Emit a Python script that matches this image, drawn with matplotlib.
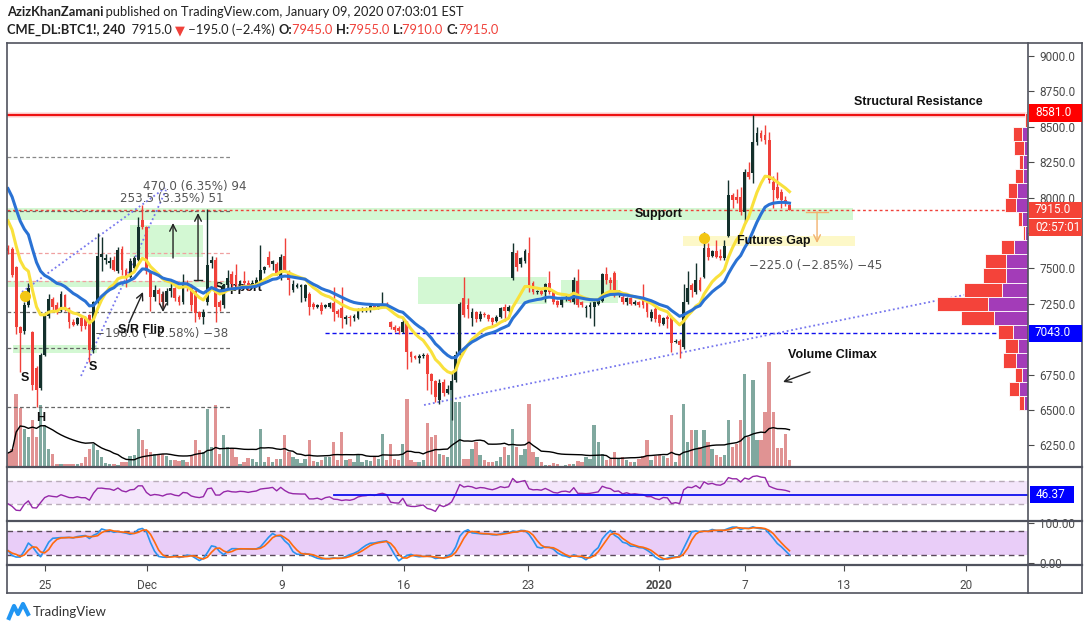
import matplotlib
matplotlib.use('Agg')
import matplotlib.pyplot as plt
import numpy as np
import pandas as pd
from matplotlib.patches import Rectangle
from matplotlib.lines import Line2D

# ---------------- data (4h bars, CME BTC1!) ----------------
opens = [7645,7640,7510,7085,7060,7245,7050,6800,6655,6890,
         7165,7285,7240,7200,7310,7220,7120,7110,7150,7150,
         7170,6925,7265,7580,7560,7540,7560,7480,7640,7490,
         7440,7500,7560,7840,7790,7470,7300,7350,7320,7260,
         7340,7360,7300,7260,7400,7380,7340,7190,7160,7260,
         7540,7560,7260,7240,7380,7460,7450,7380,7410,7400,
         7370,7390,7400,7490,7580,7530,7530,7430,7590,7475,
         7350,7370,7370,7290,7320,7250,7230,7245,7230,7230,
         7255,7200,7220,7140,7160,7150,7150,7200,7210,7215,
         7235,7220,7240,7250,7120,7085,7080,7050,7120,6910,
         6880,6870,6880,6890,6755,6705,6570,6700,6620,6640,
         6710,6890,7290,7240,7150,7190,7140,7180,7170,7150,
         7130,7160,7230,7200,7430,7610,7530,7550,7610,7400,
         7330,7340,7330,7400,7330,7270,7240,7290,7300,7260,
         7410,7260,7220,7230,7230,7250,7270,7460,7420,7470,
         7315,7300,7260,7290,7250,7260,7280,7260,7150,7210,
         7170,7110,7160,7160,6980,6990,6945,7260,7380,7330,
         7420,7440,7645,7590,7620,7590,7570,7730,8020,8005,
         8005,7900,8180,8175,8390,8455,8440,8405,8110,8075,
         8040,7985,7945]
highs = [7665,7650,7515,7090,7265,7400,7055,6810,6900,7190,
         7320,7300,7260,7340,7320,7230,7140,7160,7170,7165,
         7180,7270,7750,7720,7600,7580,7590,7650,7660,7500,
         7570,7590,7860,7950,7800,7480,7380,7360,7330,7360,
         7400,7370,7310,7460,7420,7390,7350,7200,7210,7920,
         7590,7580,7280,7390,7490,7480,7530,7420,7480,7420,
         7420,7440,7665,7520,7620,7560,7545,7600,7715,7490,
         7420,7400,7390,7390,7330,7260,7250,7260,7250,7260,
         7370,7210,7370,7170,7170,7175,7220,7230,7230,7250,
         7245,7250,7335,7260,7130,7100,7095,7150,7130,6920,
         6890,6895,6900,6900,6760,6710,6720,6720,6680,6760,
         6920,7260,7440,7290,7220,7200,7200,7190,7180,7160,
         7170,7230,7250,7240,7680,7630,7580,7640,7720,7410,
         7350,7360,7400,7480,7340,7280,7300,7310,7310,7440,
         7495,7270,7240,7260,7270,7290,7470,7510,7440,7480,
         7350,7330,7300,7300,7280,7270,7390,7270,7210,7230,
         7180,7160,7170,7170,7000,7000,7390,7480,7400,7540,
         7440,7760,7680,7630,7700,7640,7700,8124,8030,8060,
         8075,8200,8250,8585,8500,8475,8513,8460,8150,8180,
         8060,8010,7955]
lows = [7600,7440,7040,6770,7040,7230,6640,6520,6640,6880,
        7150,7190,7180,7190,7200,7080,7090,7100,7060,7070,
        6840,6900,7250,7480,7530,7500,7480,7470,7450,7370,
        7430,7480,7550,7780,7460,7200,7270,7250,7230,7240,
        7300,7270,7240,7250,7340,7200,7120,7140,7110,7240,
        7500,7120,7200,7220,7360,7360,7370,7360,7380,7350,
        7360,7370,7390,7470,7510,7490,7450,7420,7480,7310,
        7330,7360,7260,7270,7170,7210,7220,7180,7220,7220,
        7130,7160,7080,7110,7090,7130,7140,7190,7190,7190,
        7210,7210,7230,7220,7070,7050,7040,7045,6790,6840,
        6860,6830,6870,6640,6610,6557,6540,6600,6610,6430,
        6700,6880,7160,7150,7090,7120,7130,7160,7130,7100,
        7120,7150,7130,7190,7420,7480,7510,7540,7330,7320,
        7320,7310,7260,7320,7250,7230,7230,7270,7260,7250,
        7230,7230,7160,7150,7090,7240,7260,7390,7340,7300,
        7300,7250,7240,7240,7240,7230,7220,7160,7130,7120,
        7090,7100,7080,6910,6970,6867,6930,7250,7300,7320,
        7340,7430,7560,7580,7570,7560,7560,7720,7930,7960,
        7880,7820,8130,8100,8370,8400,8380,8100,7925,7990,
        7930,7940,7910]
closes = [7620,7455,7085,7045,7240,7365,6680,6640,6890,7170,
          7285,7230,7195,7320,7220,7120,7100,7150,7090,7090,
          6925,7265,7590,7600,7570,7555,7490,7630,7490,7440,
          7550,7570,7790,7790,7480,7300,7350,7320,7260,7340,
          7360,7290,7260,7400,7380,7240,7185,7157,7190,7525,
          7560,7230,7230,7380,7430,7390,7380,7410,7400,7370,
          7400,7420,7490,7510,7525,7550,7460,7580,7490,7420,
          7390,7385,7380,7380,7230,7230,7245,7200,7240,7255,
          7190,7180,7150,7160,7150,7165,7200,7215,7220,7235,
          7220,7240,7250,7230,7085,7065,7060,7120,6910,6875,
          6870,6880,6890,6755,6705,6590,6690,6620,6650,6705,
          6890,7250,7170,7210,7190,7140,7180,7170,7140,7120,
          7160,7220,7200,7225,7615,7510,7570,7620,7370,7330,
          7340,7320,7390,7330,7260,7240,7290,7300,7270,7420,
          7240,7240,7230,7240,7260,7280,7460,7420,7400,7325,
          7340,7260,7290,7250,7260,7245,7240,7190,7190,7140,
          7115,7150,7140,6975,6990,6960,7263,7360,7345,7420,
          7350,7645,7580,7620,7580,7570,7660,8018,7985,7985,
          7900,8180,8145,8390,8455,8420,8405,8125,8055,8000,
          7985,7960,7915]
volumes = [14,18,73,59,38,30,47,30,62,42,
           18,13,3,3,3,3,3,3,4,10,
           18,23,17,10,4,3,3,2,5,5,
           11,12,38,27,18,15,13,13,13,11,
           7,7,6,7,5,11,27,17,15,58,
           20,62,13,32,20,18,10,3,5,9,
           8,5,38,5,10,5,8,8,32,15,
           10,8,4,8,27,6,5,7,10,10,
           25,7,35,7,8,5,13,5,7,6,
           10,8,33,7,23,8,7,23,68,7,
           5,5,7,44,30,32,13,12,10,80,
           65,65,8,8,18,25,12,7,5,5,
           6,10,20,12,38,20,12,18,63,15,
           10,5,2,2,4,3,1,2,3,3,
           6,5,10,8,42,25,13,7,8,15,
           8,10,7,5,5,8,11,27,7,11,
           12,11,9,52,5,12,63,25,37,37,
           20,37,25,18,12,10,12,47,20,23,
           47,93,30,87,27,27,55,105,55,19,
           19,33,7]

# volume profile (price rows of 100, red / purple parts)
vp_bottoms = [8500,8400,8300,8200,8100,8000,7900,7800,7700,7600,7500,
              7400,7300,7200,7100,7000,6900,6800,6700,6600,6500,6400]
vp_red = [2,8.7,9.7,4,7.7,8.3,11.7,3.3,1.7,13,20.7,
          22.7,38,50.7,33,14.7,12.3,13,6.7,10,5.3,0]
vp_purple = [1,6.3,4.3,5,5.3,11.3,11.7,6.3,3,13.7,22,
             22.3,26.3,40,34.3,15.3,10.3,11.7,6.3,9.3,3.7,1.3]

price_ticks = [6250,6500,6750,7000,7250,7500,7750,8000,8250,8500,8750,9000]
hidden_ticks = [7000, 7750]          # covered by the price boxes in the reference
date_ticks = [9.1, 34.2, 67.3, 97.3, 127.8, 160.0, 181.1, 205.4, 235.4]
date_labels = ['25', 'Dec', '9', '16', '23', '2020', '7', '13', '20']

ema_fast_seed, ema_slow_seed = 7880, 8110
rsi_seed_gain, rsi_seed_loss = 25.0, 55.0
resistance, last_price, support_line, rsi_line_level = 8581.0, 7915.0, 7043.0, 46.37

# ---------------- indicators ----------------
O = np.array(opens, float); Hh = np.array(highs, float)
L = np.array(lows, float); C = np.array(closes, float)
V = np.array(volumes, float)
n = len(C)
idx = np.arange(n)

def ema(vals, length, seed):
    a = 2.0 / (length + 1); e = seed; out = []
    for v in vals:
        e = e + a * (v - e); out.append(e)
    return np.array(out)

ema_fast = ema(C, 11, ema_fast_seed)
ema_slow = ema(C, 20, ema_slow_seed)

rsi = []
ag, al, prev = rsi_seed_gain, rsi_seed_loss, O[0]
for c in C:
    ch = c - prev; prev = c
    ag = (ag * 13 + max(ch, 0)) / 14
    al = (al * 13 + max(-ch, 0)) / 14
    rsi.append(100 - 100 / (1 + ag / al))
rsi = np.array(rsi)

hh = pd.Series(Hh).rolling(14, min_periods=1).max()
ll = pd.Series(L).rolling(14, min_periods=1).min()
kraw = 100 * (pd.Series(C) - ll) / (hh - ll)
stk = kraw.rolling(3, min_periods=1).mean()
std = stk.rolling(3, min_periods=1).mean()
vol_ma = pd.Series(V).rolling(20, min_periods=1).mean()

# ---------------- figure ----------------
W, H = 1089, 630
fig = plt.figure(figsize=(W / 100, H / 100), dpi=100)
fig.patch.set_facecolor('white')
def fx(x): return x / W
def fy(y): return 1 - y / H

XL = (-0.25, 250.6)
PY = (6097.6, 9091.8)
def bx(xp): return (xp - 8) / 4.07
def py(yp): return 9000 - (yp - 56) * 7.062

UP, DN = '#13302b', '#f0413a'
VUP, VDN = '#80a89f', '#e09393'
GREEN = '#d3f8d3'
AXC = '#4a4a4a'
AXF = ['Roboto', 'DejaVu Sans']
TXT = dict(family=['Liberation Sans', 'DejaVu Sans'], fontweight='bold', color='#111111', fontsize=9)

ax = fig.add_axes([fx(7), fy(467), 1021 / W, 424 / H])
axv = ax.twinx()
axv.set_zorder(ax.get_zorder() - 1)
ax.patch.set_visible(False)
for a in (ax, axv):
    a.set_xlim(*XL)
    for s in a.spines.values():
        s.set_visible(False)
ax.set_ylim(*PY)
axv.set_ylim(0, 424)
axv.set_yticks([])

# volume
up = C >= O
axv.bar(idx, V, width=0.82, color=np.where(up, VUP, VDN), linewidth=0)
axv.plot(idx, vol_ma, color='black', lw=1)

# zones
def zone(x0, x1, y0, y1, color=GREEN, z=1):
    ax.add_patch(Rectangle((bx(x0), py(y1)), bx(x1) - bx(x0), py(y0) - py(y1),
                           facecolor=color, edgecolor='none', zorder=z))
zone(7, 853, 208, 220)
zone(130, 203, 225, 257)
zone(7, 226, 281, 287)
zone(13, 97, 345, 353)
zone(418, 547, 277, 304)
zone(561, 618, 280, 303)
zone(683, 855, 236, 246, color='#fdf8c8')

# short horizontal dashed lines on the left
for yp, col in [(157, '#888888'), (211, '#666666'), (253, '#f0a0a0'), (281, '#f0a0a0'),
                (312, '#666666'), (348, '#666666'), (407, '#666666')]:
    ax.plot([bx(7), bx(231)], [py(yp)] * 2, color=col, lw=0.9, ls=(0, (3, 2)), zorder=2)

ax.axhline(resistance, color='#ffb0b0', lw=4, alpha=0.45, zorder=2)
ax.axhline(resistance, color='#ee1111', lw=1.6, zorder=2.1)
ax.axhline(last_price, color='#f0413a', lw=1, ls=(0, (2, 2)), zorder=2)
ax.plot([bx(325), XL[1]], [support_line] * 2, color='#1010ee', lw=1, ls=(0, (3, 2)), zorder=2)

# trend lines
tl = dict(color='#7777ee', lw=1.3, ls=(0, (1, 1.5)), zorder=2.5)
ax.plot([bx(22), bx(165)], [py(292), py(188)], **tl)
ax.plot([bx(81), bx(166)], [py(376), py(190)], **tl)
ax.plot([bx(424), bx(1028)], [py(405), py(282)], **tl)

ax.text(bx(215), py(288), 'Support', va='center', ha='left', zorder=1.5, **TXT)

# candles
col = np.where(up, UP, DN)
ax.vlines(idx, L, Hh, colors=col, lw=1, zorder=3)
body_h = np.maximum(np.abs(C - O), 6)
ax.bar(idx, body_h, bottom=np.minimum(O, C), width=0.7, color=col, linewidth=0, zorder=3.1)

# moving averages
ax.plot(idx, ema_fast, color='#f9e13c', lw=2.2, zorder=4)
ax.plot(idx, ema_slow, color='#2a72d4', lw=2.2, zorder=4.1)

# yellow dots
for xp, yp in [(25, 296), (704, 238)]:
    ax.plot(bx(xp), py(yp), 'o', color='#f3c613', ms=7, zorder=5)

# measurement arrows
ak = dict(arrowstyle='->', color='#222222', lw=1, shrinkA=0, shrinkB=0, mutation_scale=12)
ax.annotate('', xy=(bx(173), py(223)), xytext=(bx(173), py(258)), arrowprops=ak, zorder=5)
ax.annotate('', xy=(bx(198), py(213)), xytext=(bx(198), py(280)), arrowprops=ak, zorder=5)
ax.plot([bx(194), bx(202)], [py(280)] * 2, color='#222222', lw=1, zorder=5)
ax.annotate('', xy=(bx(163), py(312)), xytext=(bx(163), py(292)), arrowprops=ak, zorder=5)
ax.annotate('', xy=(bx(143), py(292)), xytext=(bx(129), py(323)), arrowprops=ak, zorder=5)
ax.annotate('', xy=(bx(783), py(382)), xytext=(bx(810), py(372)), arrowprops=ak, zorder=5)
ok = dict(arrowstyle='->', color='#f2b26e', lw=1, shrinkA=0, shrinkB=0, mutation_scale=12)
ax.annotate('', xy=(bx(817), py(243)), xytext=(bx(817), py(212)), arrowprops=ok, zorder=5)
ax.plot([bx(806), bx(828)], [py(212)] * 2, color='#f2b26e', lw=1, zorder=5)

MT = dict(family=['DejaVu Sans'], color='#555555', fontsize=8.6, va='center', ha='left', zorder=6)
ax.text(bx(143), py(186), '470.0 (6.35%) 94', **MT)
ax.text(bx(120), py(198), '253.5 (3.35%) 51', **MT)
ax.text(bx(95), py(333), '\u2212198.0 (\u22122.58%) \u221238', **MT)
ax.text(bx(749), py(265), '\u2212225.0 (\u22122.85%) \u221245', **MT)

ax.text(bx(854), py(102), 'Structural Resistance', va='center', ha='left', zorder=6, **TXT)
ax.text(bx(635), py(214), 'Support', va='center', ha='left', zorder=6, **TXT)
ax.text(bx(737), py(241), 'Futures Gap', va='center', ha='left', zorder=6, **TXT)
ax.text(bx(118), py(330), 'S/R Flip', va='center', ha='left', zorder=6, **TXT)
ax.text(bx(788), py(355), 'Volume Climax', va='center', ha='left', zorder=6, **TXT)
ax.text(bx(25), py(378), 'S', va='center', ha='center', zorder=6, **TXT)
ax.text(bx(93), py(367), 'S', va='center', ha='center', zorder=6, **TXT)
ax.text(bx(41), py(418), 'H', va='center', ha='center', zorder=6, **TXT)

# right price axis
ax.yaxis.tick_right()
ax.set_yticks(price_ticks)
ax.set_yticklabels(['' if t in hidden_ticks else f'{t:.1f}' for t in price_ticks],
                   family=AXF)
ax.tick_params(axis='y', direction='out', length=4, pad=4, labelsize=8.5, colors=AXC)
ax.set_xticks([])

# volume profile
axp = fig.add_axes([fx(928), fy(467), 100 / W, 424 / H])
axp.set_zorder(ax.get_zorder() + 1)
axp.patch.set_visible(False)
axp.set_xlim(100, 0)
axp.set_ylim(*PY)
axp.axis('off')
axp.barh(vp_bottoms, vp_purple, height=100, align='edge', color='#a33cb8',
         edgecolor='white', linewidth=0.6)
axp.barh(vp_bottoms, vp_red, left=vp_purple, height=100, align='edge', color='#f4433a',
         edgecolor='white', linewidth=0.6)

# RSI panel
ar = fig.add_axes([fx(7), fy(521), 1021 / W, 54 / H])
ar.set_xlim(*XL); ar.set_ylim(1, 93.5)
ar.axhspan(30, 70, color='#f4e6fb', lw=0)
for lv in (30, 70):
    ar.axhline(lv, color='#b9acb9', lw=1, ls=(0, (4, 3)))
ar.plot(idx, rsi, color='#9527a8', lw=1)
ar.plot([80, XL[1]], [rsi_line_level] * 2, color='#1010ee', lw=1.3)
ar.set_xticks([]); ar.set_yticks([])
for s in ar.spines.values():
    s.set_visible(False)

# Stochastic panel
ast = fig.add_axes([fx(7), fy(565), 1021 / W, 44 / H])
ast.set_xlim(*XL); ast.set_ylim(-5, 105)
ast.axhspan(20, 80, color='#e9cdf8', lw=0)
for lv in (20, 80):
    ast.axhline(lv, color='#5a4a5a', lw=1, ls=(0, (4, 3)))
ast.plot(idx, stk, color='#2c93ef', lw=1.2)
ast.plot(idx, std, color='#ff6a0e', lw=1.2)
for s in ast.spines.values():
    s.set_visible(False)
ast.yaxis.tick_right()
ast.set_yticks([0, 100])
ast.set_yticklabels(['0.00', '100.00'], family=AXF)
ast.tick_params(axis='y', direction='out', length=4, pad=4, labelsize=8.5, colors=AXC)
ast.set_xticks(date_ticks)
ast.set_xticklabels(date_labels, family=AXF)
ast.tick_params(axis='x', direction='out', length=4, pad=6, labelsize=8.5, colors=AXC)
for lab in ast.get_xticklabels():
    if lab.get_text() == '2020':
        lab.set_fontweight('bold')

# frame lines
def fline(x0, y0, x1, y1, lw=1.2, c='#50535e'):
    fig.add_artist(Line2D([fx(x0), fx(x1)], [fy(y0), fy(y1)], color=c, lw=lw,
                          transform=fig.transFigure, zorder=20))
fline(7, 43, 1082, 43)
fline(7, 43, 7, 593)
fline(1082, 43, 1082, 593)
fline(7, 593, 1082, 593)
fline(1028, 43, 1028, 593)
for yy in (467, 521, 565):
    fline(7, yy, 1082, yy, lw=1.6)

# axis label boxes
def price_box(yc, text, bg, x0=1029, x1=1082, h=17):
    fig.add_artist(Rectangle((fx(x0), fy(yc + h / 2)), (x1 - x0) / W, h / H,
                             transform=fig.transFigure, facecolor=bg, edgecolor='none', zorder=21))
    fig.text(fx(x0 + 6), fy(yc), text, color='white', va='center', ha='left',
             fontsize=8.5, family=AXF, zorder=22)
price_box(113, '8581.0', '#ff0000')
price_box(210, '7915.0', '#f44336', h=16)
price_box(227.5, '02:57:01', '#f44336', h=17)
price_box(333, '7043.0', '#0000ff')
price_box(494, '46.37', '#0000ff', x0=1030, x1=1074)

# header
renderer = fig.canvas.get_renderer()
def seq_text(x, y, parts, size=9.3):
    for s, kw in parts:
        t = fig.text(fx(x), fy(y), s, va='center', ha='left', fontsize=size,
                     family=['Lato', 'DejaVu Sans'], **kw)
        x += t.get_window_extent(renderer=renderer).width
RED = '#f0413a'
B = dict(fontweight='bold', color='#222222'); N = dict(color='#222222')
seq_text(7, 12, [('AzizKhanZamani', B),
                 ('\u2009published on TradingView.com, January 09, 2020 07:03:01 EST', N)])
seq_text(7, 30, [('CME_DL:BTC1!, 240', B), ('  7915.0 ', N), ('\u25bc', dict(color=RED)),
                 (' \u2212195.0 (\u22122.4%) ', N), ('O:', B), ('7945.0 ', dict(color=RED)),
                 ('H:', B), ('7955.0 ', dict(color=RED)), ('L:', B), ('7910.0 ', dict(color=RED)),
                 ('C:', B), ('7915.0', dict(color=RED))])

# TradingView logo
fig.add_artist(Line2D([fx(9), fx(14), fx(18), fx(23), fx(28)], [fy(618), fy(606), fy(614), fy(604), fy(614)],
                      color='#2196f3', lw=3, transform=fig.transFigure))
fig.text(fx(33), fy(612), 'TradingView', fontsize=9.5, color='#333333', va='center', ha='left',
         family=['Lato', 'DejaVu Sans'])

fig.savefig('out.png', dpi=100, facecolor='white')
